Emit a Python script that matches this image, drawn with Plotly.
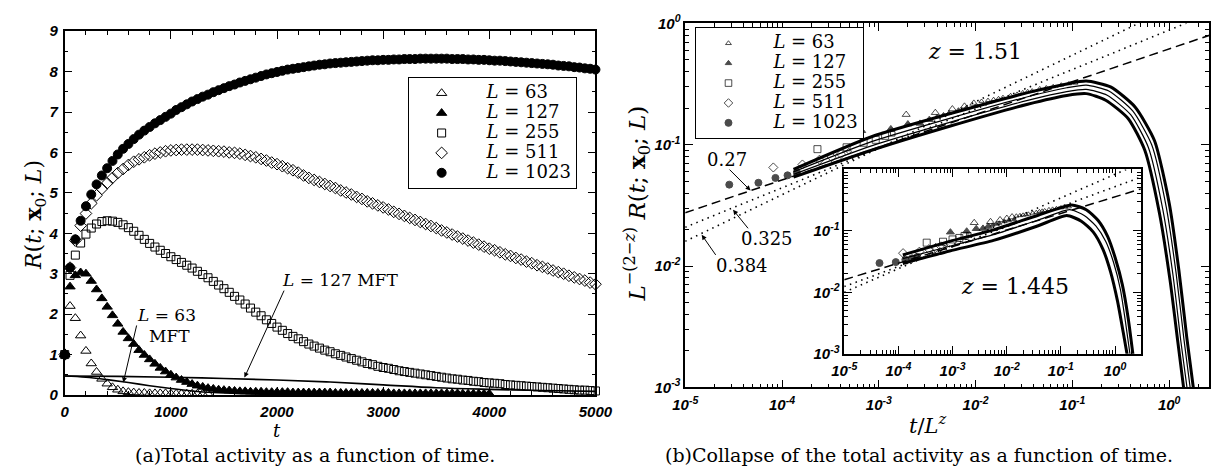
import math
import plotly.graph_objects as go

# ======================= panel (a): total activity R(t) =======================
t_63 = list(range(0, 1351, 50))
R_63 = [1.00, 2.20, 1.90, 1.47, 1.09, 0.78, 0.57, 0.40, 0.28, 0.19,
        0.13, 0.09, 0.07, 0.06, 0.05, 0.05, 0.04, 0.04, 0.04, 0.04,
        0.03, 0.03, 0.03, 0.03, 0.03, 0.03, 0.03, 0.03]

t_127 = list(range(0, 4001, 50))
R_127 = [1.00, 2.68, 2.96, 3.03, 3.00, 2.82, 2.61, 2.39, 2.18, 1.97,
         1.76, 1.56, 1.40, 1.26, 1.11, 0.99, 0.88, 0.77, 0.67, 0.58,
         0.50, 0.43, 0.37, 0.32, 0.27, 0.23, 0.20, 0.17, 0.15, 0.13,
         0.12, 0.11, 0.10, 0.09, 0.09, 0.08, 0.08, 0.08, 0.07, 0.07,
         0.07, 0.07, 0.07, 0.06, 0.06, 0.06, 0.06, 0.06, 0.06, 0.06,
         0.06, 0.05, 0.05, 0.05, 0.05, 0.05, 0.05, 0.05, 0.05, 0.05,
         0.05, 0.05, 0.04, 0.04, 0.04, 0.04, 0.04, 0.04, 0.04, 0.04,
         0.04, 0.04, 0.04, 0.04, 0.04, 0.03, 0.03, 0.03, 0.03, 0.03,
         0.03]

t_255 = list(range(0, 5001, 50))
R_255 = [1.00, 2.96, 3.46, 3.76, 3.98, 4.13, 4.23, 4.29, 4.31, 4.30,
         4.27, 4.21, 4.14, 4.05, 3.95, 3.85, 3.75, 3.66, 3.58, 3.50,
         3.42, 3.35, 3.28, 3.21, 3.14, 3.06, 2.98, 2.90, 2.81, 2.72,
         2.63, 2.54, 2.44, 2.35, 2.25, 2.15, 2.05, 1.96, 1.86, 1.77,
         1.68, 1.60, 1.52, 1.45, 1.39, 1.32, 1.26, 1.21, 1.16, 1.11,
         1.07, 1.02, 0.98, 0.94, 0.90, 0.86, 0.82, 0.78, 0.75, 0.71,
         0.68, 0.66, 0.63, 0.60, 0.58, 0.56, 0.54, 0.52, 0.50, 0.48,
         0.46, 0.44, 0.42, 0.40, 0.39, 0.37, 0.36, 0.34, 0.33, 0.31,
         0.30, 0.29, 0.28, 0.26, 0.25, 0.24, 0.23, 0.22, 0.21, 0.20,
         0.19, 0.18, 0.17, 0.16, 0.15, 0.14, 0.13, 0.12, 0.12, 0.11,
         0.10]

t_511 = list(range(0, 5001, 50))
R_511 = [1.00, 3.15, 3.82, 4.19, 4.49, 4.74, 4.94, 5.10, 5.24, 5.37,
         5.49, 5.59, 5.69, 5.77, 5.83, 5.88, 5.93, 5.97, 6.00, 6.03,
         6.05, 6.06, 6.07, 6.07, 6.07, 6.07, 6.06, 6.05, 6.04, 6.03,
         6.02, 6.00, 5.99, 5.97, 5.94, 5.91, 5.88, 5.84, 5.80, 5.75,
         5.71, 5.66, 5.61, 5.56, 5.50, 5.43, 5.37, 5.32, 5.27, 5.22,
         5.17, 5.12, 5.06, 5.01, 4.96, 4.90, 4.85, 4.79, 4.74, 4.69,
         4.64, 4.59, 4.53, 4.48, 4.43, 4.38, 4.33, 4.28, 4.23, 4.18,
         4.13, 4.07, 4.02, 3.97, 3.92, 3.87, 3.82, 3.77, 3.72, 3.67,
         3.62, 3.58, 3.53, 3.48, 3.44, 3.39, 3.35, 3.30, 3.26, 3.21,
         3.17, 3.13, 3.08, 3.04, 3.00, 2.95, 2.91, 2.87, 2.83, 2.78,
         2.74]

t_1023 = list(range(0, 5001, 50))
R_1023 = [1.00, 3.15, 3.85, 4.31, 4.67, 4.96, 5.21, 5.43, 5.61, 5.79,
          5.95, 6.09, 6.21, 6.33, 6.44, 6.54, 6.63, 6.72, 6.80, 6.88,
          6.96, 7.05, 7.12, 7.19, 7.26, 7.32, 7.38, 7.43, 7.49, 7.54,
          7.59, 7.64, 7.68, 7.73, 7.77, 7.81, 7.85, 7.89, 7.93, 7.96,
          7.99, 8.02, 8.05, 8.07, 8.09, 8.11, 8.13, 8.15, 8.17, 8.18,
          8.20, 8.21, 8.22, 8.23, 8.24, 8.25, 8.26, 8.27, 8.28, 8.28,
          8.29, 8.29, 8.30, 8.30, 8.31, 8.31, 8.31, 8.32, 8.32, 8.32,
          8.32, 8.32, 8.32, 8.31, 8.31, 8.31, 8.30, 8.30, 8.29, 8.29,
          8.28, 8.27, 8.27, 8.26, 8.25, 8.24, 8.23, 8.22, 8.21, 8.20,
          8.19, 8.18, 8.17, 8.15, 8.14, 8.13, 8.11, 8.10, 8.08, 8.07,
          8.05]

# mean-field theory curves
mft63_t = [0, 200, 400, 600, 800, 1000, 1200, 1400, 1700, 2000]
mft63_R = [0.47, 0.44, 0.38, 0.31, 0.23, 0.16, 0.10, 0.06, 0.03, 0.01]
mft127_t = [0, 500, 1000, 1500, 2000, 2500, 3000, 3500, 4000, 4500, 5000]
mft127_R = [0.47, 0.46, 0.44, 0.41, 0.37, 0.32, 0.25, 0.18, 0.14, 0.11, 0.09]

xticks_a = [0, 1000, 2000, 3000, 4000, 5000]
yticks_a = [0, 1, 2, 3, 4, 5, 6, 7, 8, 9]

# ======================= panel (b): data collapse =======================
Z_MAIN = 1.51
Z_INSET = 1.445

# early-time activity (t, R) shown as markers
bt_63 = [1, 2, 3, 4, 5, 6, 7, 8, 9, 10, 12, 14, 16, 18, 20, 24, 28, 33, 40, 48, 56]
bR_63 = [1.35, 1.40, 1.50, 1.58, 1.67, 1.74, 1.77, 1.80, 1.83, 1.87, 1.94, 1.99,
         2.05, 2.09, 2.12, 2.21, 2.25, 2.30, 2.37, 2.43, 2.46]
bt_127 = [1, 2, 3, 4, 5, 6, 7, 8, 10, 12, 15]
bR_127 = [1.40, 1.45, 1.59, 1.61, 1.73, 1.83, 1.90, 1.97, 2.08, 2.16, 2.24]
bt_255 = [1, 2, 3, 4, 5, 6]
bR_255 = [1.39, 1.44, 1.57, 1.66, 1.79, 1.86]
bt_511 = [1, 2, 3, 4, 5, 6]
bR_511 = [1.38, 1.46, 1.60, 1.68, 1.78, 1.88]
bt_1023 = [1, 2, 3, 4, 5]
bR_1023 = [1.40, 1.45, 1.59, 1.67, 1.77]

# collapsed curves, main plot (z = 1.51)
main_up_x = [1.315e-4, 8.41e-4, 5.39e-3, 0.0345, 0.0875, 0.139, 0.248, 0.444, 0.706, 1.00, 1.26, 1.52, 1.79]
main_up_y = [0.0626, 0.1164, 0.180, 0.269, 0.317, 0.335, 0.300, 0.205, 0.108, 0.0331, 0.00923, 0.00258, 0.00095]
main_ma_x = [1.315e-4, 8.41e-4, 5.39e-3, 0.0345, 0.0875, 0.139, 0.238, 0.42, 0.66, 0.93, 1.18, 1.42, 1.66]
main_ma_y = [0.0598, 0.1060, 0.165, 0.249, 0.295, 0.310, 0.278, 0.190, 0.100, 0.0310, 0.0087, 0.0025, 0.00095]
main_mb_x = [1.315e-4, 8.41e-4, 5.39e-3, 0.0345, 0.0875, 0.139, 0.229, 0.40, 0.61, 0.86, 1.10, 1.32, 1.54]
main_mb_y = [0.0570, 0.0980, 0.153, 0.232, 0.274, 0.286, 0.256, 0.177, 0.095, 0.0292, 0.0082, 0.0024, 0.00095]
main_lo_x = [1.315e-4, 8.41e-4, 5.39e-3, 0.0345, 0.0875, 0.139, 0.221, 0.378, 0.560, 0.792, 1.02, 1.23, 1.42]
main_lo_y = [0.0541, 0.0901, 0.142, 0.216, 0.255, 0.264, 0.233, 0.164, 0.0901, 0.0275, 0.00769, 0.00235, 0.00095]

# collapsed curves, inset (z = 1.445)
ins_up_x = [1.205e-4, 8.83e-4, 5.71e-3, 3.70e-2, 0.158, 0.294, 0.484, 0.733, 1.02, 1.365, 1.75, 2.15]
ins_up_y = [0.0407, 0.0673, 0.1037, 0.178, 0.264, 0.221, 0.1486, 0.0806, 0.0352, 0.01334, 0.00379, 0.00095]
ins_md_x = [1.205e-4, 8.83e-4, 5.71e-3, 3.70e-2, 0.145, 0.270, 0.446, 0.675, 0.94, 1.256, 1.546, 1.90]
ins_md_y = [0.0352, 0.0562, 0.0866, 0.1486, 0.221, 0.178, 0.1197, 0.0673, 0.0305, 0.0112, 0.0035, 0.00095]
ins_lo_x = [1.205e-4, 8.83e-4, 5.71e-3, 3.70e-2, 0.128, 0.239, 0.394, 0.596, 0.830, 1.11, 1.42, 1.68]
ins_lo_y = [0.0294, 0.0470, 0.0698, 0.1197, 0.178, 0.1433, 0.0964, 0.0505, 0.0213, 0.00723, 0.00221, 0.00095]

# power-law guides (exponents 0.27 dashed, 0.325 / 0.384 dotted): end points
fit_x = [1e-5, 3.0]
main_fit027_y = [0.0275, 0.83]
main_fit0325_y = [0.0209, 1.26]
main_fit0384_y = [0.0160, 2.02]
ins_fit027_y = [0.0160, 0.481]
ins_fit0325_y = [0.0124, 0.748]
ins_fit0384_y = [0.0100, 1.27]

log_ticks_x = [1e-5, 1e-4, 1e-3, 1e-2, 1e-1, 1e0]
log_ticks_y = [1e-3, 1e-2, 1e-1, 1e0]
ins_ticks_y = [1e-3, 1e-2, 1e-1]

# ============================ figure ============================
W, H = 1232, 475
SERIF = "DejaVu Serif"
SANS = "Liberation Sans"

fig = go.Figure()

# --- panel (a) MFT lines
for tt, rr in [(mft63_t, mft63_R), (mft127_t, mft127_R)]:
    fig.add_trace(go.Scatter(x=tt, y=rr, mode="lines", line=dict(color="black", width=1.6, shape="spline"),
                             showlegend=False, xaxis="x", yaxis="y", hoverinfo="skip"))

PAD = "\u00a0\u00a0\u00a0"


def leg_label(L):
    return f'{PAD}<span style="font-family:{SERIF};font-size:18px"><i>L</i> = {L}</span>'


series_a = [
    ("63", t_63, R_63, "triangle-up-open", 9),
    ("127", t_127, R_127, "triangle-up", 9),
    ("255", t_255, R_255, "square-open", 8),
    ("511", t_511, R_511, "diamond-open", 9),
    ("1023", t_1023, R_1023, "circle", 9),
]
for name, tt, rr, sym, sz in series_a:
    fig.add_trace(go.Scatter(
        x=tt, y=rr, mode="markers", name=leg_label(name),
        marker=dict(symbol=sym, size=sz, color="black", line=dict(color="black", width=1)),
        cliponaxis=False, xaxis="x", yaxis="y", legend="legend"))


# --- panel (b) guides
def guides(xa, ya, y27, y325, y384):
    fig.add_trace(go.Scatter(x=fit_x, y=y27, mode="lines", line=dict(color="black", width=1.5, dash="9px,5px"),
                             showlegend=False, xaxis=xa, yaxis=ya, hoverinfo="skip"))
    for yy in (y325, y384):
        fig.add_trace(go.Scatter(x=fit_x, y=yy, mode="lines", line=dict(color="black", width=1.6, dash="1.5px,4.5px"),
                                 showlegend=False, xaxis=xa, yaxis=ya, hoverinfo="skip"))


guides("x2", "y2", main_fit027_y, main_fit0325_y, main_fit0384_y)
guides("x3", "y3", ins_fit027_y, ins_fit0325_y, ins_fit0384_y)

for cx, cy, w in [(main_up_x, main_up_y, 3), (main_ma_x, main_ma_y, 1.2),
                  (main_mb_x, main_mb_y, 1.2), (main_lo_x, main_lo_y, 3)]:
    fig.add_trace(go.Scatter(x=cx, y=cy, mode="lines", line=dict(color="black", width=w, shape="spline", smoothing=0.6),
                             showlegend=False, xaxis="x2", yaxis="y2", hoverinfo="skip"))
for cx, cy, w in [(ins_up_x, ins_up_y, 3), (ins_md_x, ins_md_y, 1.2), (ins_lo_x, ins_lo_y, 3)]:
    fig.add_trace(go.Scatter(x=cx, y=cy, mode="lines", line=dict(color="black", width=w, shape="spline", smoothing=0.6),
                             showlegend=False, xaxis="x3", yaxis="y3", hoverinfo="skip"))

series_b = [
    (63, bt_63, bR_63, "triangle-up-open"),
    (127, bt_127, bR_127, "triangle-up"),
    (255, bt_255, bR_255, "square-open"),
    (511, bt_511, bR_511, "diamond-open"),
    (1023, bt_1023, bR_1023, "circle"),
]
for L, tt, rr, sym in series_b:
    sizes = [7 if t <= 5 else 4.5 for t in tt]
    for z, xa, ya, show in [(Z_MAIN, "x2", "y2", True), (Z_INSET, "x3", "y3", False)]:
        fig.add_trace(go.Scatter(
            x=[t / L ** z for t in tt], y=[r / L ** (2 - z) for r in rr],
            mode="markers", name=leg_label(L), showlegend=show,
            marker=dict(symbol=sym, size=sizes, color="black", line=dict(color="black", width=1)),
            xaxis=xa, yaxis=ya, legend="legend2"))

# ============================ axes ============================
tickfont = dict(family=SANS, size=15, color="black", weight="bold", style="italic")
common = dict(showline=True, linecolor="black", linewidth=1.5, mirror="ticks", ticks="inside",
              ticklen=8, tickwidth=1, tickcolor="black", showgrid=False, zeroline=False,
              tickfont=tickfont)
minor_lin = dict(ticks="inside", ticklen=4, tickcolor="black", tickwidth=1)
minor_log = dict(ticks="inside", ticklen=4, dtick="D1", tickcolor="black", tickwidth=1)


def logtext(vals):
    return [f"10<sup>{int(round(math.log10(v)))}</sup>" for v in vals]


fig.update_layout(
    width=W, height=H, margin=dict(l=0, r=0, t=0, b=0),
    paper_bgcolor="white", plot_bgcolor="white",
    xaxis=dict(domain=[53 / W, 597 / W], range=[0, 5000], tickmode="array", tickvals=xticks_a,
               ticktext=[str(v) for v in xticks_a], ticklabelstandoff=2,
               minor=dict(dtick=200, **minor_lin), **common),
    yaxis=dict(domain=[75 / H, 454 / H], range=[0, 9], tickmode="array", tickvals=yticks_a,
               ticktext=[str(v) for v in yticks_a], ticklabelstandoff=2,
               minor=dict(dtick=0.5, **minor_lin), **common),
    xaxis2=dict(domain=[689 / W, 1226 / W], type="log", range=[-5, 0.413], tickmode="array",
                tickvals=log_ticks_x, ticktext=logtext(log_ticks_x), anchor="y2", ticklabelstandoff=3,
                minor=minor_log, **common),
    yaxis2=dict(domain=[83 / H, 462 / H], type="log", range=[-3, 0], tickmode="array",
                tickvals=log_ticks_y, ticktext=logtext(log_ticks_y), anchor="x2",
                minor=minor_log, **common),
    xaxis3=dict(domain=[852 / W, 1156 / W], type="log", range=[-5, 0.477], tickmode="array",
                tickvals=log_ticks_x, ticktext=logtext(log_ticks_x), anchor="y3", ticklabelstandoff=3,
                minor=minor_log, **common),
    yaxis3=dict(domain=[118 / H, 310 / H], type="log", range=[-3, 0], tickmode="array",
                tickvals=ins_ticks_y, ticktext=logtext(ins_ticks_y), anchor="x3",
                minor=minor_log, **common),
    legend=dict(x=405 / W, y=1 - 69 / H, xanchor="left", yanchor="top", bgcolor="white",
                bordercolor="black", borderwidth=1, font=dict(family=SERIF, size=13, color="black"),
                tracegroupgap=0, itemwidth=55),
    legend2=dict(x=699 / W, y=1 - 17 / H, xanchor="left", yanchor="top", bgcolor="white",
                 bordercolor="black", borderwidth=1, font=dict(family=SERIF, size=13, color="black"),
                 tracegroupgap=0, itemwidth=55),
)

# ============================ text ============================
anns = []


def text(s, x, y, size=20, angle=0, xref="paper", yref="paper", xanchor="center"):
    anns.append(dict(text=s, x=x, y=y, xref=xref, yref=yref, showarrow=False, textangle=angle,
                     xanchor=xanchor, yanchor="middle", font=dict(family=SERIF, size=size, color="black")))


def arrow(x, y, ax, ay, xref, yref):
    anns.append(dict(text=" ", x=x, y=y, xref=xref, yref=yref, ax=ax, ay=ay, showarrow=True,
                     arrowhead=2, arrowsize=1, arrowwidth=1, arrowcolor="black", standoff=0,
                     font=dict(size=2)))


def px(xp, yp):
    return xp / W, 1 - yp / H


# axis titles & captions
text("<i>R</i>(<i>t</i>; <b>x</b><sub>0</sub>; <i>L</i>)", *px(22, 212), size=22, angle=-90)
text("<i>t</i>", *px(271, 437), size=18)
text("<i>t</i>/<i>L</i><sup><i>z</i></sup>", *px(937, 430), size=21)
text("<i>L</i><sup>−(2−<i>z</i>)</sup> <i>R</i>(<i>t</i>; <b>x</b><sub>0</sub>; <i>L</i>)", *px(639, 200), size=23, angle=-90)
text("(a)Total activity as a function of time.", *px(310, 462), size=19)
text("(b)Collapse of the total activity as a function of time.", *px(929, 462), size=19)
text("<i>z</i> = 1.51", *px(986, 42), size=22)
text("<i>z</i> = 1.445", *px(1027, 287), size=22)

# panel (a) MFT labels
text("<i>L</i> = 127 MFT", 2594, 2.84, size=17, xref="x", yref="y")
text("<i>L</i> = 63", 957, 1.97, size=17, xref="x", yref="y")
text("MFT", 984, 1.47, size=17, xref="x", yref="y")
arrow(1693, 0.43, 41, -90, "x", "y")
arrow(552, 0.31, 14, -60, "x", "y")

# panel (b) exponent labels (log axes -> log10 coordinates)
text("0.27", math.log10(2.71e-5), math.log10(0.0751), size=18, xref="x2", yref="y2")
text("0.325", math.log10(7.03e-5), math.log10(0.01684), size=18, xref="x2", yref="y2")
text("0.384", math.log10(3.85e-5), math.log10(0.0101), size=18, xref="x2", yref="y2")
arrow(math.log10(4.73e-5), math.log10(0.0419), -23, -23, "x2", "y2")
arrow(math.log10(3.12e-5), math.log10(0.0291), 17, 21, "x2", "y2")
arrow(math.log10(1.48e-5), math.log10(0.0181), 16, 23, "x2", "y2")

fig.update_layout(annotations=anns)
fig.write_html("out.html")
